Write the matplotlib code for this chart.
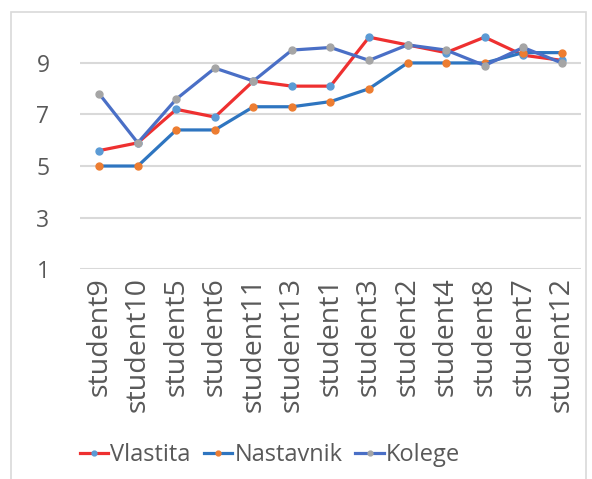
import numpy as np
import matplotlib.pyplot as plt
from matplotlib.patches import Rectangle

plt.rcParams['font.family'] = ['Open Sans', 'DejaVu Sans']

students = ['student9', 'student10', 'student5', 'student6', 'student11', 'student13',
            'student1', 'student3', 'student2', 'student4', 'student8', 'student7', 'student12']
vlastita = [5.6, 5.9, 7.2, 6.9, 8.3, 8.1, 8.1, 10.0, 9.7, 9.4, 10.0, 9.3, 9.1]
nastavnik = [5.0, 5.0, 6.4, 6.4, 7.3, 7.3, 7.5, 8.0, 9.0, 9.0, 9.0, 9.4, 9.4]
kolege = [7.8, 5.9, 7.6, 8.8, 8.3, 9.5, 9.6, 9.1, 9.7, 9.5, 8.9, 9.6, 9.0]

grey_txt = '#595959'

fig = plt.figure(figsize=(5.92, 4.79), dpi=100)
ax = fig.add_axes([0.1351, 0.4382, 0.8463, 0.5326])

x = np.arange(len(students))
ax.plot(x, vlastita, color='#ee3030', lw=2.3, marker='o', ms=5,
        mfc='#5b9bd5', mec='#5b9bd5', label='Vlastita', zorder=3)
ax.plot(x, nastavnik, color='#2e75c0', lw=2.3, marker='o', ms=5,
        mfc='#ed7d31', mec='#ed7d31', label='Nastavnik', zorder=3)
ax.plot(x, kolege, color='#4a6fc6', lw=2.3, marker='o', ms=5,
        mfc='#a5a5a5', mec='#a5a5a5', label='Kolege', zorder=3)

ax.set_xlim(-0.5, len(students) - 0.5)
ax.set_ylim(1, 10.9)
ax.set_yticks([1, 3, 5, 7, 9])
ax.set_xticks(x)
ax.set_xticklabels(students, rotation=90, fontsize=20.5, color=grey_txt)
ax.tick_params(axis='y', labelsize=16.5, labelcolor=grey_txt, length=0, pad=22)
ax.tick_params(axis='x', length=0, pad=6)
ax.grid(True, axis='y', color='#d9d9d9', lw=1.5)
ax.set_axisbelow(True)
for s in ax.spines.values():
    s.set_visible(False)

leg = fig.legend(loc='center', bbox_to_anchor=(270 / 592, 1 - 455 / 479), ncol=3,
                 frameon=False, fontsize=17, handlelength=1.2, handletextpad=0.1,
                 columnspacing=0.55, markerscale=0.7)
for t in leg.get_texts():
    t.set_color(grey_txt)

# chart border
fig.patches.append(Rectangle((11 / 592, -0.05), 575 / 592, 1.05 - 12 / 479,
                             transform=fig.transFigure, fill=False,
                             edgecolor='#d9d9d9', lw=1.2))

fig.savefig('out.png', dpi=100)
